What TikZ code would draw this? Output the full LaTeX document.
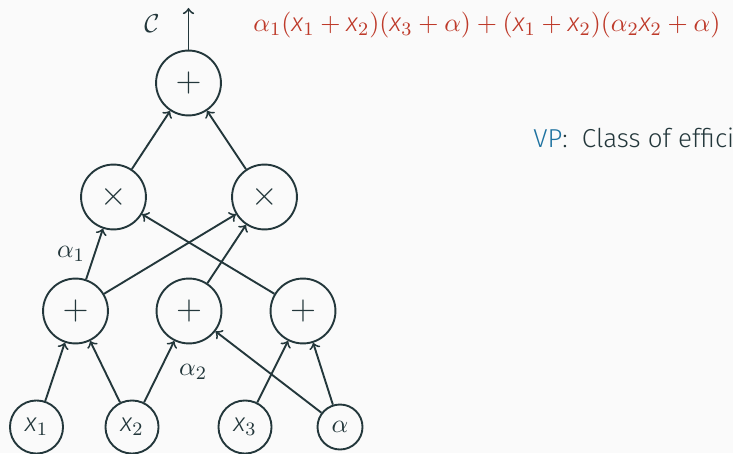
\documentclass[tikz,border=0pt,11pt]{standalone}
\usepackage{fontspec}
\setmainfont{Fira Sans}[UprightFont={* Light},ItalicFont={* Light Italic},BoldFont={*}]
\usepackage{amsmath}
\usepackage{tikz}
\usepackage{xcolor}
\definecolor{mdark}{HTML}{23373B}
\definecolor{mred}{HTML}{BE3A2A}
\definecolor{mblue}{HTML}{1E72A0}
\definecolor{mbg}{HTML}{FAFAFA}
\newcommand{\xv}[1]{\textit{x}_{#1}}

\begin{document}
\begin{tikzpicture}[x=0.4222pt,y=0.4222pt,color=mdark,
  gate/.style={circle,draw,thick,minimum size=27.4pt,inner sep=0pt,font=\Large},
  leaf/.style={circle,draw,thick,minimum size=22.4pt,inner sep=0pt},
  wire/.style={->,thick}]
  \useasboundingbox (0,0) rectangle (733,453); \fill[mbg] (0,0) rectangle (733,453);
  \node[gate] (top) at (188.5,370) {$+$};
  \node[gate] (m1) at (113.5,256) {$\times$}; \node[gate] (m2) at (264.5,256) {$\times$};
  \node[gate] (p1) at (75.5,142) {$+$}; \node[gate] (p2) at (189,142) {$+$}; \node[gate] (p3) at (303,142) {$+$};
  \node[leaf] (x1) at (36.5,26) {$\xv1$}; \node[leaf] (x2) at (132,26) {$\xv2$};
  \node[leaf] (x3) at (245,26) {$\xv3$}; \node[leaf,minimum size=19pt] (al) at (340,26) {$\alpha$};
  \coordinate (out) at (188.5,445); \node (C) at (152,429) {$\mathcal{C}$};
  \draw[wire] (top) -- (out);
  \draw[wire] (m1) -- (top); \draw[wire] (m2) -- (top);
  \draw[wire] (p1) -- node[left]{$\alpha_1$} (m1); \draw[wire] (p1) -- (m2);
  \draw[wire] (p2) -- (m2); \draw[wire] (p3) -- (m1);
  \draw[wire] (x1) -- (p1); \draw[wire] (x2) -- (p1);
  \draw[wire] (x2) -- node[right=4.4pt]{$\alpha_2$} (p2);
  \draw[wire] (x3) -- (p3); \draw[wire] (al) -- (p3); \draw[wire] (al) -- (p2);
  \node[mred,anchor=west,inner sep=0pt] (poly) at (253,428) {$\alpha_1(\xv1+\xv2)(\xv3+\alpha)+(\xv1+\xv2)(\alpha_2\xv2+\alpha)$};
  \node[anchor=west,inner sep=0pt] (vp) at (533,315) {\textcolor{mblue}{VP}:\hspace{6pt}Class of effici};
\end{tikzpicture}
\end{document}
